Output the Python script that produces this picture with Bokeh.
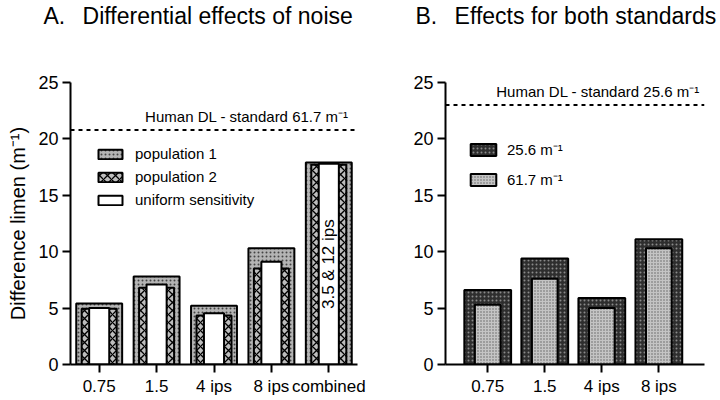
import math
from bokeh.plotting import figure
from bokeh.layouts import row, column
from bokeh.models import Range1d, FixedTicker, Span, Label, Legend, LegendItem
from bokeh.embed import file_html
from bokeh.resources import INLINE

# ---------------- data ----------------
categories_a = ["0.75", "1.5", "4 ips", "8 ips", "combined"]
pop1 = [5.4, 7.8, 5.2, 10.3, 17.9]
pop2 = [4.95, 6.8, 4.35, 8.5, 17.7]
uniform = [5.0, 7.1, 4.55, 9.1, 17.8]
human_dl_a = 20.8

categories_b = ["0.75", "1.5", "4 ips", "8 ips"]
std_256 = [6.6, 9.4, 5.9, 11.1]
std_617 = [5.3, 7.6, 5.0, 10.3]
human_dl_b = 23.0

y_ticks = [0, 5, 10, 15, 20, 25]

title_a = "A.\u00a0\u00a0\u2009Differential effects of noise"
title_b = "B.\u00a0\u00a0\u2009Effects for both standards"

FONT = "Liberation Sans"


def style(p, cats):
    p.outline_line_color = None
    p.grid.visible = False
    p.background_fill_color = "white"
    p.border_fill_color = "white"
    for ax in (p.xaxis[0], p.yaxis[0]):
        ax.axis_line_width = 2
        ax.axis_line_color = "black"
        ax.major_tick_line_width = 2
        ax.major_tick_line_color = "black"
        ax.major_tick_out = 8
        ax.major_tick_in = 0
        ax.minor_tick_line_color = None
        ax.major_label_text_font = FONT
        ax.major_label_text_color = "black"
        ax.major_label_standoff = 4
    p.xaxis.major_label_text_font_size = "17px"
    p.yaxis.major_label_text_font_size = "18px"
    p.xaxis.ticker = FixedTicker(ticks=list(range(len(cats))))
    p.xaxis.major_label_overrides = {i: c for i, c in enumerate(cats)}
    p.yaxis.ticker = FixedTicker(ticks=y_ticks)


# ---------------- title strip ----------------
pT = figure(width=720, height=34, output_backend="svg", toolbar_location=None,
            x_range=Range1d(0, 720), y_range=Range1d(0, 34),
            x_axis_type=None, y_axis_type=None, min_border=0)
pT.outline_line_color = None
pT.grid.visible = False
pT.add_layout(Label(x=43, y=19, text=title_a, text_baseline="middle",
                    text_font=FONT, text_font_size="23px", text_color="black"))
pT.add_layout(Label(x=415, y=19, text=title_b, text_baseline="middle",
                    text_font=FONT, text_font_size="23px", text_color="black"))

# ---------------- panel A ----------------
xa = list(range(len(categories_a)))
pA = figure(width=410, height=364, output_backend="svg", toolbar_location=None,
            x_range=Range1d(-0.5, len(categories_a) - 0.5), y_range=Range1d(0, 25),
            min_border_left=70, min_border_right=53, min_border_top=48, min_border_bottom=34)
style(pA, categories_a)
pA.yaxis.axis_label = "Difference limen (m\u207b\u00b9)"
pA.yaxis.axis_label_text_font = FONT
pA.yaxis.axis_label_text_font_size = "20px"
pA.yaxis.axis_label_text_font_style = "normal"
pA.yaxis.axis_label_text_color = "black"
pA.yaxis.axis_label_standoff = 6

r1 = pA.vbar(x=xa, top=pop1, width=0.8, bottom=0, fill_color="#b4b4b4",
             hatch_pattern="dot", hatch_color="#444444", hatch_scale=4, hatch_weight=1,
             line_color="black", line_width=2)
r2 = pA.vbar(x=xa, top=pop2, width=0.61, bottom=0, fill_color="#bdbdbd",
             hatch_pattern="diagonal_cross", hatch_color="black", hatch_scale=8, hatch_weight=1.3,
             line_color="black", line_width=2)
r3 = pA.vbar(x=xa, top=uniform, width=0.35, bottom=0, fill_color="white",
             line_color="black", line_width=2)

pA.add_layout(Span(location=human_dl_a, dimension="width", line_color="black",
                   line_width=2, line_dash="4 4"))
pA.add_layout(Label(x=0.8, y=human_dl_a + 0.45, text="Human DL - standard 61.7 m\u207b\u00b9",
                    text_font=FONT, text_font_size="15px", text_color="black"))
pA.add_layout(Label(x=4, y=8.9, text="3.5 & 12 ips", angle=math.pi / 2,
                    text_align="center", text_baseline="middle",
                    text_font=FONT, text_font_size="17px", text_color="black"))

legA = Legend(items=[LegendItem(label="population 1", renderers=[r1]),
                     LegendItem(label="population 2", renderers=[r2]),
                     LegendItem(label="uniform sensitivity", renderers=[r3])],
              location=(25, 156), glyph_width=30, glyph_height=12, label_height=14,
              spacing=6, padding=0, margin=0, label_standoff=10,
              label_text_font=FONT, label_text_font_size="15px", label_text_color="black",
              background_fill_alpha=0, border_line_color=None)
pA.add_layout(legA)

# ---------------- panel B ----------------
xb = list(range(len(categories_b)))
pB = figure(width=310, height=364, output_backend="svg", toolbar_location=None,
            x_range=Range1d(-0.74, len(categories_b) - 1 + 0.8), y_range=Range1d(0, 25),
            min_border_left=34, min_border_right=16, min_border_top=48, min_border_bottom=34)
style(pB, categories_b)

s1 = pB.vbar(x=xb, top=std_256, width=0.82, bottom=0, fill_color="#2e2e2e",
             hatch_pattern="dot", hatch_color="#8a8a8a", hatch_scale=4, hatch_weight=1,
             line_color="black", line_width=2)
s2 = pB.vbar(x=xb, top=std_617, width=0.45, bottom=0, fill_color="#c4c4c4",
             hatch_pattern="dot", hatch_color="#606060", hatch_scale=3, hatch_weight=1,
             line_color="black", line_width=2)

pB.add_layout(Span(location=human_dl_b, dimension="width", line_color="black",
                   line_width=2, line_dash="4 4"))
pB.add_layout(Label(x=0.15, y=human_dl_b + 0.45, text="Human DL - standard 25.6 m\u207b\u00b9",
                    text_font=FONT, text_font_size="15px", text_color="black"))

legB = Legend(items=[LegendItem(label="25.6 m\u207b\u00b9", renderers=[s1]),
                     LegendItem(label="61.7 m\u207b\u00b9", renderers=[s2])],
              location=(22, 175), glyph_width=32, glyph_height=15, label_height=15,
              spacing=10, padding=0, margin=0, label_standoff=8,
              label_text_font=FONT, label_text_font_size="15px", label_text_color="black",
              background_fill_alpha=0, border_line_color=None)
pB.add_layout(legB)

layout = column(pT, row(pA, pB))
open("out.html", "w").write(file_html(layout, INLINE))
